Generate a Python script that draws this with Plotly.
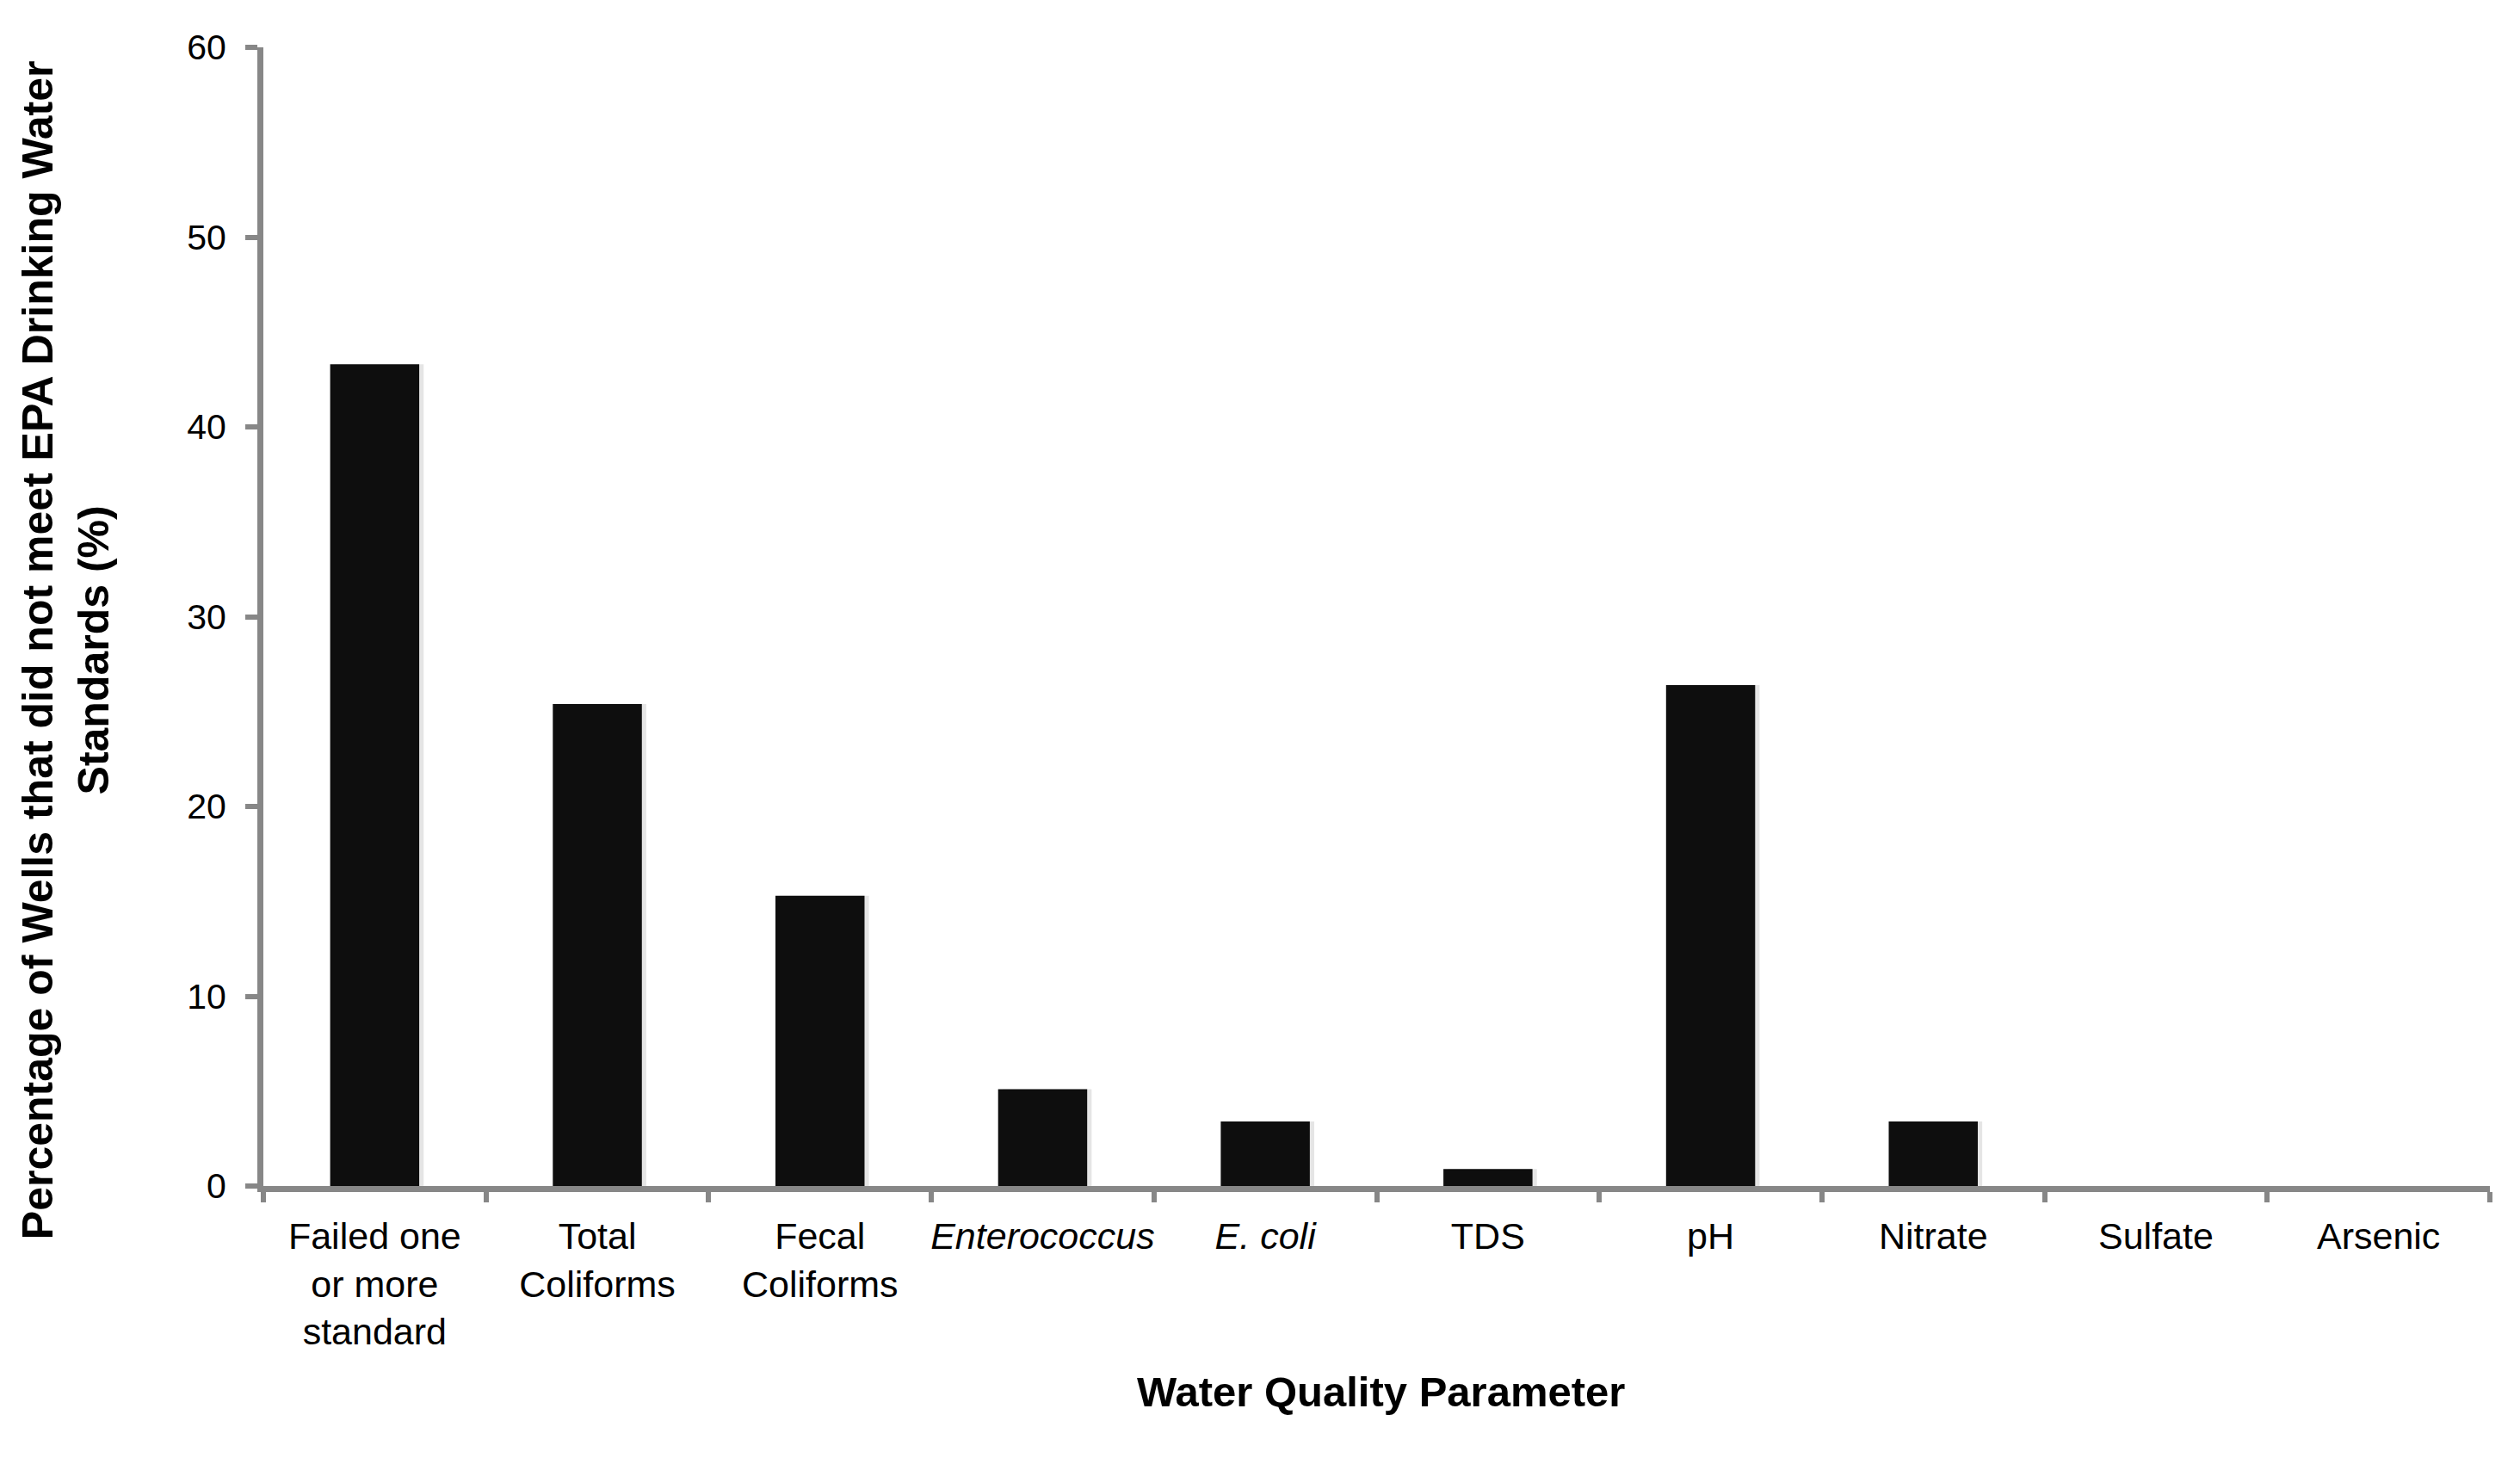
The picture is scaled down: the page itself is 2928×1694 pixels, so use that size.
import plotly.graph_objects as go

categories = ["Failed one<br>or more<br>standard", "Total<br>Coliforms", "Fecal<br>Coliforms",
              "<i>Enterococcus</i>", "<i>E. coli</i>", "TDS", "pH", "Nitrate", "Sulfate", "Arsenic"]
values = [43.3, 25.4, 15.3, 5.1, 3.4, 0.9, 26.4, 3.4, 0, 0]
y_ticks = [0, 10, 20, 30, 40, 50, 60]

W, H = 2912, 1678
ml, mr, mt, mb = 298, 27, 47, 308

fig = go.Figure()
# subtle drop shadow to the right of each bar
fig.add_trace(go.Bar(x=categories, y=values, width=0.4, offset=-0.18,
                     marker=dict(color="rgba(0,0,0,0.10)", line=dict(width=0)),
                     hoverinfo="skip", showlegend=False))
fig.add_trace(go.Bar(x=categories, y=values, width=0.4, offset=-0.2,
                     marker=dict(color="#0e0e0e", line=dict(width=0)),
                     showlegend=False))

axis_color = "#878787"
fig.update_layout(
    width=W, height=H, autosize=False,
    margin=dict(l=ml, r=mr, t=mt, b=mb, pad=0),
    paper_bgcolor="white", plot_bgcolor="white",
    barmode="overlay",
    font=dict(family="Liberation Sans, Arial, sans-serif", color="black"),
    xaxis=dict(type="category", tickson="boundaries", showline=True, linecolor=axis_color,
               linewidth=7, ticks="outside", ticklen=12, tickwidth=6, tickcolor=axis_color,
               showgrid=False, zeroline=False, tickfont=dict(size=43), tickangle=0,
               automargin=False, ticklabelstandoff=14),
    yaxis=dict(range=[0, 60], tickvals=y_ticks, showline=True, linecolor=axis_color,
               linewidth=7, ticks="outside", ticklen=14, tickwidth=6, tickcolor=axis_color,
               showgrid=False, zeroline=False, tickfont=dict(size=41), automargin=False,
               ticklabelstandoff=14),
    annotations=[
        dict(text="<b>Percentage of Wells that did not meet EPA Drinking Water<br>Standards (%)</b>",
             xref="paper", yref="paper", x=-0.0884, y=0.471, textangle=-90,
             showarrow=False, font=dict(size=50), xanchor="center", yanchor="middle"),
        dict(text="<b>Water Quality Parameter</b>", xref="paper", yref="paper",
             x=0.502, y=-0.181, showarrow=False, font=dict(size=49),
             xanchor="center", yanchor="middle"),
    ],
)

fig.write_html("out.html")
